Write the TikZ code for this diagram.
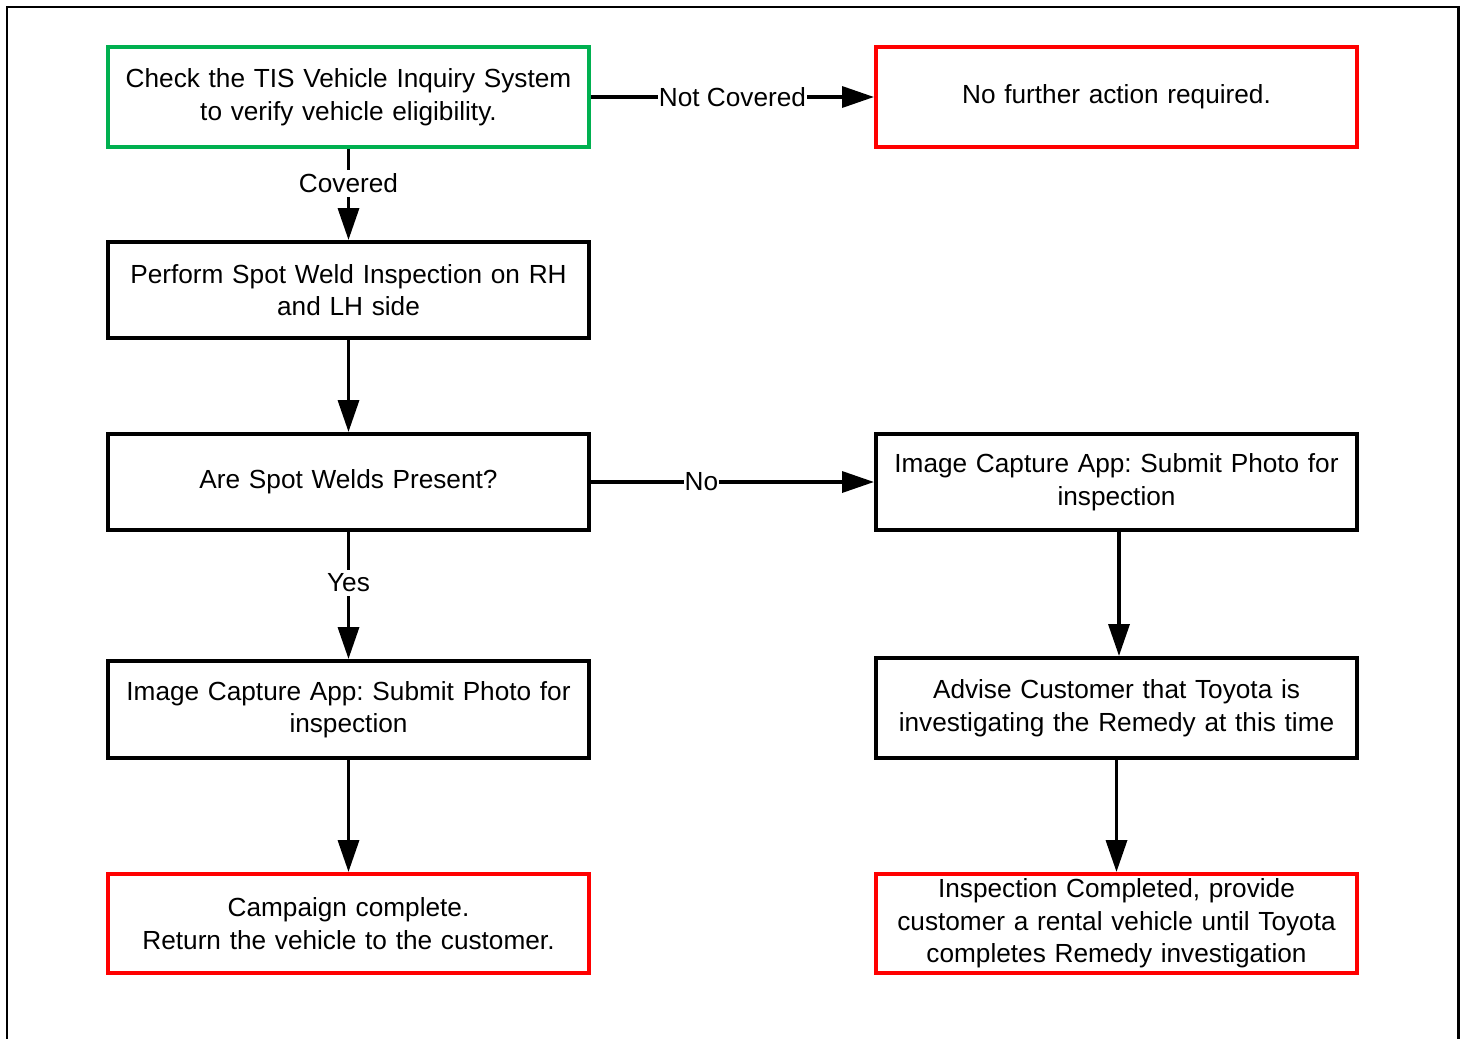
\documentclass[tikz,border=0pt]{standalone}
\usepackage{fontspec}
\setmainfont{Liberation Sans}
\usetikzlibrary{arrows.meta}
\definecolor{boxgreen}{RGB}{0,176,80}
\definecolor{boxred}{RGB}{255,0,0}
\frenchspacing
\tikzset{
  box/.style={draw, line width=4pt, minimum width=481pt, inner sep=0pt, text width=470pt, align=center,
    font=\fontsize{26.2}{32.5}\selectfont},
  greenbox/.style={box, draw=boxgreen},
  redbox/.style={box, draw=boxred},
  blackbox/.style={box, draw=black},
  conn/.style={line width=3.5pt, -{Triangle[length=32pt,width=21pt]}},
  lbl/.style={fill=white, inner xsep=1pt, inner ysep=4pt, font=\fontsize{26.2}{32.5}\selectfont},
  frameline/.style={line width=2.6pt}
}
\begin{document}
\begin{tikzpicture}[x=1pt,y=-1pt]
\useasboundingbox (0,0) rectangle (1465,1039);
\coordinate (f1) at (7,1045);
\coordinate (f2) at (7,7);
\coordinate (f3) at (1458.5,7);
\coordinate (f4) at (1458.5,1045);
\draw[frameline] (f1) -- (f2) -- (f3) -- (f4);

\node[greenbox, minimum height=100pt] (a) at (348.5,97) {Check the TIS Vehicle Inquiry System\\to verify vehicle eligibility.};
\node[redbox, minimum height=100pt] (b) at (1116.5,97) {No further action required.};
\node[blackbox, minimum height=96pt] (c) at (348.5,290) {Perform Spot Weld Inspection on RH\\and LH side};
\node[blackbox, minimum height=96pt] (d) at (348.5,482) {Are Spot Welds Present?};
\node[blackbox, minimum height=96pt] (e) at (1116.5,482) {Image Capture App: Submit Photo for\\inspection};
\node[blackbox, minimum height=97pt] (f) at (348.5,709.5) {Image Capture App: Submit Photo for\\inspection};
\node[blackbox, minimum height=100pt] (g) at (1116.5,708) {Advise Customer that Toyota is\\investigating the Remedy at this time};
\node[redbox, minimum height=99pt] (h) at (348.5,923.5) {Campaign complete.\\Return the vehicle to the customer.};
\node[redbox, minimum height=99pt] (i) at (1116.5,923.5) {Inspection Completed, provide\\customer a rental vehicle until Toyota\\completes Remedy investigation};

\draw[conn] (a) -- node[lbl, pos=0.5] {Not Covered} (b);
\draw[conn] (a) -- node[lbl, pos=0.38] {Covered} (c);
\draw[conn] (c) -- (d);
\draw[conn] (d) -- node[lbl, pos=0.39] {No} (e);
\draw[conn] (d) -- node[lbl, pos=0.4] {Yes} (f);
\draw[conn] ([xshift=2.5pt]e.south) -- ([xshift=2.5pt]g.north);
\draw[conn] (f) -- (h);
\draw[conn] (g) -- (i);
\end{tikzpicture}
\end{document}
